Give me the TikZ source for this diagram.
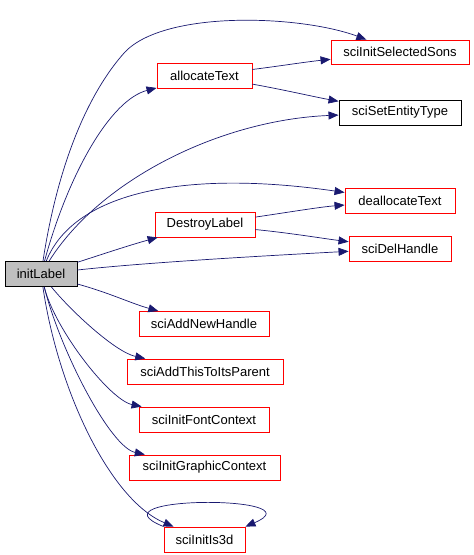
\documentclass[tikz,border=0pt]{standalone}
\usepackage{fontspec}
\setmainfont{Liberation Sans}
\usepackage{tikz}
\usetikzlibrary{%
  arrows.meta,
}
\definecolor{edgeblue}{RGB}{25,25,112}
\definecolor{rootgray}{RGB}{191,191,191}
\tikzset{
  fn/.style = {draw = red, line width = 0.9pt, inner sep = 0pt,
    minimum height = 25pt, font = \fontsize{13}{15}\selectfont},
  fnblack/.style = {fn, draw = black},
  fnroot/.style = {fn, draw = black, fill = rootgray},
  call/.style = {edgeblue, line width = 0.7pt,
    -{Triangle[length = 10pt, width = 8pt]}},
}

\begin{document}
\begin{tikzpicture}[x = 1pt, y = -1pt]
  \useasboundingbox (0,0) rectangle (474,555);
  % pixel units, y down

  \node[fnroot, minimum width = 72pt] (initLabel) at (41,274) {initLabel};

  \node[fn, minimum width = 95pt] (allocateText) at (204.5,75.5) {allocateText};
  \node[fn, minimum width = 100pt] (DestroyLabel) at (205,224.5) {DestroyLabel};
  \node[fn, minimum width = 130pt] (sciAddNewHandle) at (204,324) {sciAddNewHandle};
  \node[fn, minimum width = 156pt] (sciAddThisToItsParent) at (205,371.5) {sciAddThisToItsParent};
  \node[fn, minimum width = 130pt] (sciInitFontContext) at (204,419.5) {sciInitFontContext};
  \node[fn, minimum width = 151pt] (sciInitGraphicContext) at (204.5,467.5) {sciInitGraphicContext};
  \node[fn, minimum width = 81pt] (sciInitIs3d) at (204.5,539.5) {sciInitIs3d};

  \node[fn, minimum width = 138pt, minimum height = 24pt] (sciInitSelectedSons) at (400,52) {sciInitSelectedSons};
  \node[fnblack, minimum width = 122pt] (sciSetEntityType) at (400,112.5) {sciSetEntityType};
  \node[fn, minimum width = 110pt] (deallocateText) at (400,200.5) {deallocateText};
  \node[fn, minimum width = 102pt] (sciDelHandle) at (400,248.5) {sciDelHandle};

  % calls from initLabel
  \draw[call] (initLabel) .. controls (60,150) and (95,85) .. (125,52)
    .. controls (165,10) and (300,15) .. (sciInitSelectedSons);
  \draw[call] (initLabel) .. controls (68,175) and (110,100) .. (allocateText);
  \draw[call] (initLabel) .. controls (100,180) and (220,120) .. (sciSetEntityType);
  \draw[call] (initLabel) .. controls (75,190) and (190,170) .. (deallocateText);
  \draw[call] (initLabel) .. controls (100,255) and (130,245) .. (DestroyLabel);
  \draw[call] (initLabel) .. controls (150,262) and (280,255) .. (sciDelHandle);
  \draw[call] (initLabel) .. controls (110,293) and (130,303) .. (sciAddNewHandle);
  \draw[call] (initLabel) .. controls (70,310) and (115,352) .. (sciAddThisToItsParent);
  \draw[call] (initLabel) .. controls (55,330) and (110,400) .. (sciInitFontContext);
  \draw[call] (initLabel) .. controls (60,350) and (110,447) .. (sciInitGraphicContext);
  \draw[call] (initLabel) .. controls (58,390) and (110,500) .. (sciInitIs3d);

  % second level
  \draw[call] (allocateText) .. controls (280,66) and (305,62) .. (sciInitSelectedSons);
  \draw[call] (allocateText) .. controls (285,90) and (315,97) .. (sciSetEntityType);
  \draw[call] (DestroyLabel) .. controls (290,212) and (320,207) .. (deallocateText);
  \draw[call] (DestroyLabel) .. controls (290,233) and (320,238) .. (sciDelHandle);

  \draw[call] (sciInitIs3d.north west) .. controls (85,495) and (320,495)
    .. (sciInitIs3d.north east);
\end{tikzpicture}
\end{document}
